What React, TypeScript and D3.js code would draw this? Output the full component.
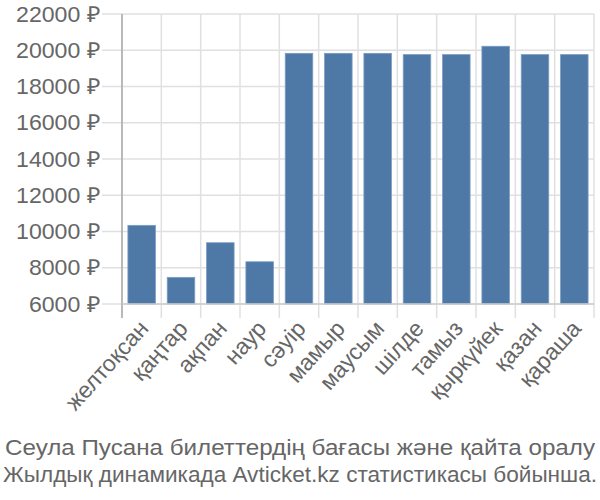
import React from "react";
import * as d3 from "d3";

const months = ["желтоқсан", "қаңтар", "ақпан", "наур", "сәуір", "мамыр", "маусым", "шілде", "тамыз", "қыркүйек", "қазан", "қараша"];
const prices = [10340, 7470, 9380, 8330, 19830, 19830, 19830, 19760, 19760, 20220, 19760, 19760];
const yTicks = [6000, 8000, 10000, 12000, 14000, 16000, 18000, 20000, 22000];
const titleLines = ["Сеула Пусана билеттердің бағасы және қайта оралу", "Жылдық динамикада Avticket.kz статистикасы бойынша."];
const titleWidths = [590, 594];

export default function App() {
  const W = 600, H = 500;
  const left = 122, right = 594, top = 14, bottom = 304;
  const x = d3.scaleBand<string>().domain(months).range([left, right]).paddingInner(0.3).paddingOuter(0.15);
  const xg = d3.scaleBand<string>().domain(months).range([left, right]);
  const y = d3.scaleLinear().domain([6000, 22000]).range([bottom, top]);
  const font = "'Liberation Sans', Arial, sans-serif";
  return (
    <svg width={W} height={H} style={{ position: "absolute", left: 0, top: 0 }} fontFamily={font}>
      {yTicks.map((t) => (
        <line key={"h" + t} x1={102} x2={right} y1={y(t)} y2={y(t)} stroke="#e0e0e0" strokeWidth={1.5} />
      ))}
      {months.map((m) => (
        <line key={"v" + m} x1={xg(m)!} x2={xg(m)!} y1={top} y2={318} stroke="#e0e0e0" strokeWidth={1.5} />
      ))}
      <line x1={right} x2={right} y1={top} y2={318} stroke="#e0e0e0" strokeWidth={1.5} />
      <line x1={left} x2={left} y1={top} y2={318} stroke="#aaaaaa" strokeWidth={1.5} />
      {months.map((m, i) => (
        <rect key={"b" + m} x={x(m)!} y={y(prices[i])} width={x.bandwidth()} height={bottom - y(prices[i])} fill="#4e79a7" stroke="#7a9cc2" strokeWidth={0.8} />
      ))}
      <line x1={left} x2={right} y1={bottom} y2={bottom} stroke="#cccccc" strokeWidth={1.5} />
      {yTicks.map((t) => (
        <text key={"yt" + t} transform={`translate(100,${y(t)}) scale(1.05,1)`} dy="0.35em" textAnchor="end" fontSize={22} fill="#666666">
          {t} ₽
        </text>
      ))}
      {months.map((m) => {
        const cx = x(m)! + x.bandwidth() / 2 + 2;
        const cy = 324;
        return (
          <text key={"xl" + m} x={cx} y={cy} textAnchor="end" fontSize={23} fill="#666666" transform={`rotate(-48 ${cx} ${cy})`} dy="0.35em">
            {m}
          </text>
        );
      })}
      {titleLines.map((l, i) => (
        <text key={"t" + i} x={W / 2 - titleWidths[i] / 2} y={455 + i * 27} textLength={titleWidths[i]} lengthAdjust="spacingAndGlyphs" fontSize={22} fill="#666666">
          {l}
        </text>
      ))}
    </svg>
  );
}
